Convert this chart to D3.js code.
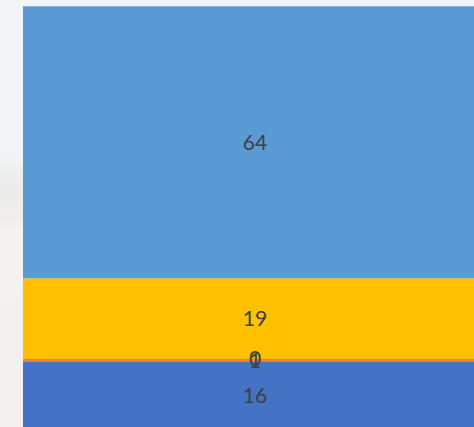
<!DOCTYPE html>
<html><head><meta charset="utf-8">
<script src="https://cdn.jsdelivr.net/npm/d3@7"></script>
<style>html,body{margin:0;padding:0;overflow:hidden;background:#f3f4f6}</style>
</head><body>
<svg id="c" width="474" height="427"></svg>
<script>
const series = ["S1","S2","S3","S4","S5"];
const values = [16, 0.7, 0, 19, 64];
const colors = ["#4472C4","#ED7D31","#A5A5A5","#FFC000","#5B9BD5"];
const category = ["Cat"];

const W = 474, H = 427;
const svg = d3.select("#c");
const defs = svg.append("defs");
const g1 = defs.append("linearGradient").attr("id","bg").attr("x1",0).attr("y1",0).attr("x2",0).attr("y2",1);
g1.append("stop").attr("offset","0%").attr("stop-color","#f3f4f6");
g1.append("stop").attr("offset","35%").attr("stop-color","#f3f4f6");
g1.append("stop").attr("offset","45%").attr("stop-color","#ebebea");
g1.append("stop").attr("offset","55%").attr("stop-color","#f4f2f0");
g1.append("stop").attr("offset","100%").attr("stop-color","#f2efed");
svg.append("rect").attr("width",W).attr("height",H).attr("fill","url(#bg)");

const y = d3.scaleLinear().domain([0,100]).range([430,5]);
const x = d3.scaleBand().domain(category).range([23,487]).padding(0);

let acc = 0;
const stacked = values.map((v,i)=>{const d={v, y0:acc, y1:acc+v, c:colors[i], s:series[i]}; acc+=v; return d;});

svg.selectAll("rect.seg").data(stacked).enter().append("rect")
  .attr("class","seg")
  .attr("x", x("Cat")).attr("width", x.bandwidth())
  .attr("y", d=>y(d.y1)).attr("height", d=>y(d.y0)-y(d.y1))
  .attr("fill", d=>d.c);

svg.selectAll("text.lbl").data(stacked).enter().append("text")
  .attr("class","lbl")
  .attr("x", 255)
  .attr("y", d=>(y(d.y0)+y(d.y1))/2)
  .attr("dy","0.35em")
  .attr("text-anchor","middle")
  .attr("font-family","Lato, 'Noto Sans', sans-serif")
  .attr("font-size", 21)
  .attr("fill","#404040")
  .text(d=>d3.format(".0f")(d.v));
</script>
</body></html>
